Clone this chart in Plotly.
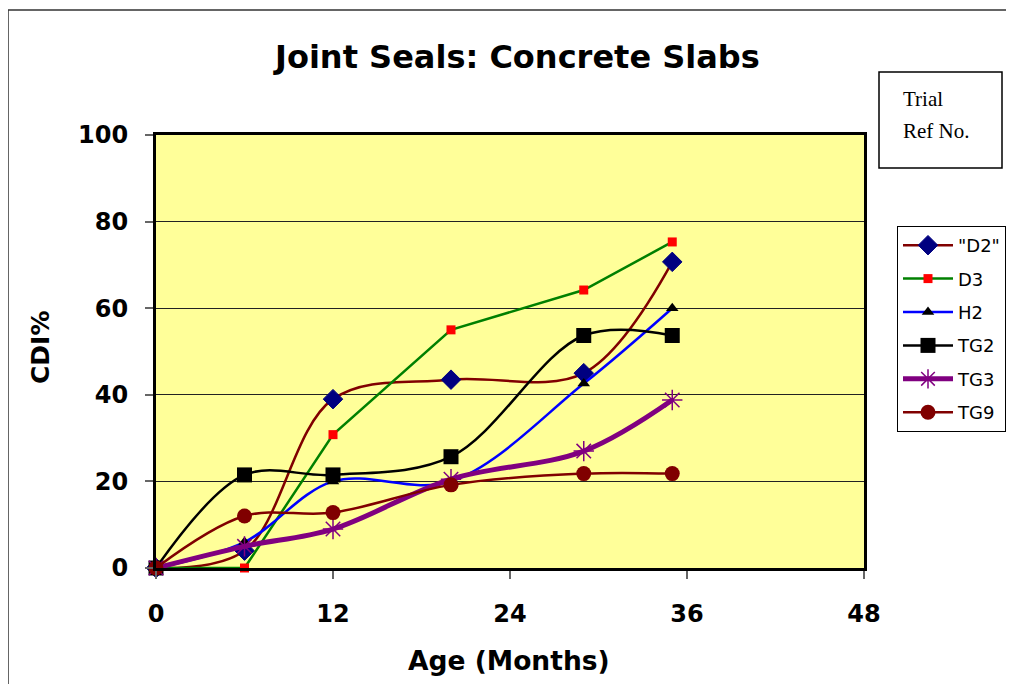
import plotly.graph_objects as go

months = [0, 6, 12, 20, 29, 35]
d2 = [0, 4, 39, 43.5, 45, 70.7]
d3 = [0, 0, 30.8, 55, 64.2, 75.3]
h2 = [0, 6, 20, 20, 42.6, 60]
tg2 = [0, 21.5, 21.5, 25.7, 53.7, 53.7]
tg3 = [0, 5, 9, 20.5, 27, 38.8]
tg9 = [0, 12, 12.8, 19.2, 21.8, 21.8]

x_ticks = [0, 12, 24, 36, 48]
y_ticks = [0, 20, 40, 60, 80, 100]

series = [
    dict(name='"D2"', y=d2, lc="#800000", lw=2.5, shape="spline",
         m=dict(symbol="diamond", size=15, color="#000080", line=dict(color="#000080", width=1))),
    dict(name="D3", y=d3, lc="#008000", lw=2.5, shape="linear",
         m=dict(symbol="square", size=9, color="#FF0000", line=dict(color="#FF0000", width=0))),
    dict(name="H2", y=h2, lc="#0000FF", lw=2.5, shape="spline",
         m=dict(symbol="triangle-up", size=11, color="#000000", line=dict(color="#000000", width=0))),
    dict(name="TG2", y=tg2, lc="#000000", lw=2.5, shape="spline",
         m=dict(symbol="square", size=15, color="#000000", line=dict(color="#000000", width=0))),
    dict(name="TG3", y=tg3, lc="#800080", lw=5, shape="spline",
         m=dict(symbol="asterisk-open", size=17, color="#800080", line=dict(color="#800080", width=1.5))),
    dict(name="TG9", y=tg9, lc="#800000", lw=2.5, shape="spline",
         m=dict(symbol="circle", size=15, color="#800000", line=dict(color="#800000", width=0))),
]

fig = go.Figure()
for i, s in enumerate(series):
    fig.add_trace(go.Scatter(
        x=months, y=s["y"], name=s["name"], mode="lines+markers",
        line=dict(color=s["lc"], width=s["lw"], shape=s["shape"], smoothing=1),
        marker=s["m"], legendgroup=f"g{i}", cliponaxis=False,
    ))

W, H = 1014, 684
OFF = 8  # page body margin
L, R, T, B = 156 - OFF, 864 - OFF, 135 - OFF, 568 - OFF
pw, ph = R - L, B - T


def px(xp):
    return (xp - OFF - L) / pw


def py(yp):
    return (B - (yp - OFF)) / ph


fig.update_layout(
    width=W, height=H,
    margin=dict(l=L, r=W - R, t=T, b=H - B, pad=0),
    paper_bgcolor="white",
    plot_bgcolor="#FFFF99",
    showlegend=True,
    legend=dict(
        x=px(897), y=py(226), xanchor="left", yanchor="top",
        bgcolor="white", bordercolor="black", borderwidth=1,
        font=dict(family="DejaVu Sans", size=18, color="black"),
        tracegroupgap=7, itemwidth=50,
    ),
    xaxis=dict(
        range=[0, 48], tickvals=x_ticks, ticktext=[str(v) for v in x_ticks],
        showgrid=False, zeroline=False,
        showline=True, linecolor="black", linewidth=3, mirror=True,
        ticks="outside", ticklen=8, tickcolor="#666", tickwidth=1.5,
        tickfont=dict(family="DejaVu Sans", size=24, color="black", weight="bold"),
        ticklabelstandoff=14,
    ),
    yaxis=dict(
        range=[0, 100], tickvals=y_ticks, ticktext=[str(v) for v in y_ticks],
        showgrid=True, gridcolor="#222", gridwidth=1, zeroline=False,
        showline=True, linecolor="black", linewidth=3, mirror=True,
        ticks="outside", ticklen=8, tickcolor="#666", tickwidth=1.5,
        tickfont=dict(family="DejaVu Sans", size=24, color="black", weight="bold"),
        ticklabelstandoff=12,
    ),
    shapes=[
        dict(type="rect", xref="paper", yref="paper",
             x0=px(8), x1=px(1040), y0=py(720), y1=py(10),
             line=dict(color="#333", width=1.5), fillcolor="rgba(0,0,0,0)", layer="below"),
        dict(type="rect", xref="paper", yref="paper",
             x0=px(879), x1=px(1002), y0=py(168), y1=py(72),
             line=dict(color="black", width=1.5), fillcolor="white"),
    ],
    annotations=[
        dict(text="<b>Joint Seals: Concrete Slabs</b>", xref="paper", yref="paper",
             x=px(516), y=py(57), xanchor="center", yanchor="middle", showarrow=False,
             font=dict(family="DejaVu Sans", size=32, color="black")),
        dict(text="<b>Age (Months)</b>", xref="paper", yref="paper",
             x=px(509), y=py(660), xanchor="center", yanchor="middle", showarrow=False,
             font=dict(family="DejaVu Sans", size=26.5, color="black")),
        dict(text="<b>CDI%</b>", xref="paper", yref="paper", textangle=-90,
             x=px(40), y=py(348), xanchor="center", yanchor="middle", showarrow=False,
             font=dict(family="DejaVu Sans", size=25, color="black")),
        dict(text="Trial", xref="paper", yref="paper",
             x=px(901), y=py(99), xanchor="left", yanchor="middle", showarrow=False,
             font=dict(family="Liberation Serif", size=21, color="black")),
        dict(text="Ref No.", xref="paper", yref="paper",
             x=px(901), y=py(131), xanchor="left", yanchor="middle", showarrow=False,
             font=dict(family="Liberation Serif", size=21, color="black")),
    ],
)

fig.write_html("out.html")
